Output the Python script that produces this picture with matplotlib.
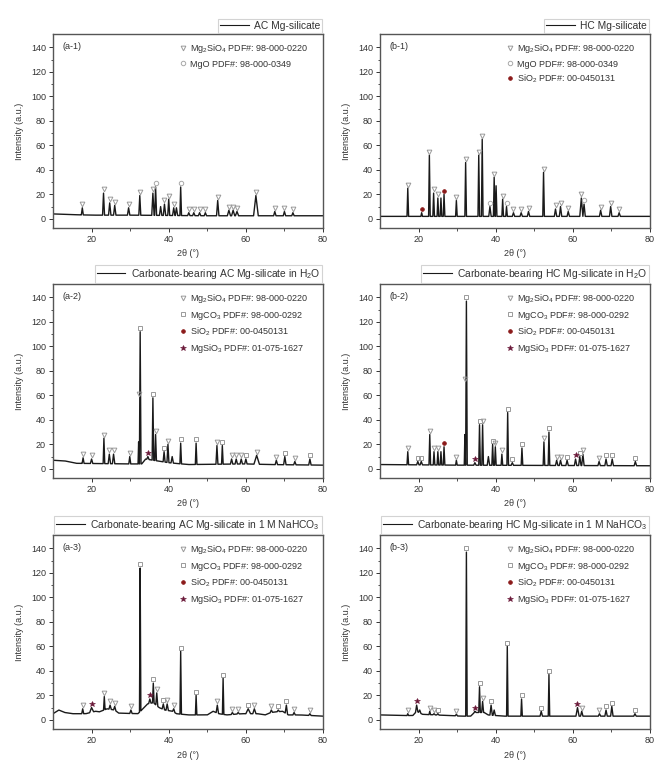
import numpy as np
import matplotlib
matplotlib.use('Agg')
import matplotlib.pyplot as plt
from matplotlib.lines import Line2D

plt.rcParams['font.family'] = ['Liberation Sans', 'DejaVu Sans']
plt.rcParams['mathtext.fontset'] = 'custom'
plt.rcParams['mathtext.rm'] = 'Liberation Sans'
plt.rcParams['mathtext.it'] = 'Liberation Sans:italic'

FS = 6.5

# ---- diffraction data: baseline anchors (2theta, I), peaks (2theta, top I, half width) ----
a1_base = [(10, 4), (14, 3.5), (20, 3), (30, 3), (50, 2.5), (80, 2.5)]
a1_peaks = [(17.6, 9, 0.25), (23.1, 21, 0.25), (24.7, 13, 0.3), (26.0, 11, 0.3),
            (29.6, 9, 0.3), (32.5, 19, 0.25), (35.9, 21, 0.3), (36.6, 26, 0.25),
            (37.9, 10, 0.3), (38.9, 12, 0.3), (40.0, 16, 0.25), (41.3, 9, 0.3),
            (42.0, 9, 0.3), (43.1, 26, 0.2), (45.2, 5, 0.3), (46.5, 5, 0.3),
            (48.0, 5, 0.3), (49.5, 5, 0.3), (52.7, 15, 0.3), (55.6, 7, 0.4),
            (56.7, 7, 0.4), (57.7, 6, 0.4), (62.6, 19, 0.6), (67.5, 6, 0.3),
            (70.0, 6, 0.3), (72.2, 5, 0.3)]
a1_fo = [17.6, 23.1, 24.7, 26.0, 29.6, 32.5, 35.9, 38.9, 40.0, 41.3, 45.2, 46.5,
         48.0, 49.5, 52.7, 55.6, 56.7, 57.7, 62.6, 67.5, 70.0, 72.2]
a1_mgo = [36.6, 43.1]

b1_base = [(10, 2), (80, 2)]
b1_peaks = [(17.2, 25, 0.2), (20.8, 5, 0.2), (22.8, 52, 0.2), (23.9, 21, 0.2),
            (25.0, 17, 0.2), (25.8, 17, 0.2), (26.6, 20, 0.2), (29.8, 15, 0.2),
            (32.2, 46, 0.2), (35.6, 52, 0.2), (36.5, 65, 0.2), (38.5, 10, 0.3),
            (39.6, 34, 0.2), (40.1, 27, 0.2), (41.8, 16, 0.2), (42.8, 10, 0.2),
            (44.6, 5, 0.3), (46.6, 5, 0.3), (48.5, 6, 0.3), (52.4, 38, 0.2),
            (55.5, 8, 0.3), (56.8, 10, 0.3), (58.8, 6, 0.3), (62.2, 17, 0.4),
            (62.9, 12, 0.3), (67.2, 7, 0.3), (69.8, 10, 0.3), (72.0, 5, 0.3)]
b1_fo = [17.2, 22.8, 23.9, 25.0, 29.8, 32.2, 35.6, 36.5, 39.6, 41.8, 44.6, 46.6,
         48.5, 52.4, 55.5, 56.8, 58.8, 62.2, 67.2, 69.8, 72.0]
b1_mgo = [38.5, 42.8, 62.9]
b1_sio2 = [20.8, 26.6]

a2_base = [(10, 7), (13, 6.5), (16, 4.5), (30, 4), (33, 4), (34, 8), (38, 6),
           (40, 5), (45, 3.5), (60, 4), (66, 3.5), (80, 3)]
a2_peaks = [(17.8, 9, 0.25), (20.0, 8, 0.3), (23.2, 25, 0.2), (24.6, 12, 0.3),
            (25.7, 12, 0.3), (29.9, 10, 0.25), (32.2, 22, 0.15), (32.6, 112, 0.2),
            (34.6, 10, 0.3), (35.9, 58, 0.2), (36.6, 28, 0.2), (38.8, 14, 0.25),
            (39.8, 20, 0.25), (40.9, 10, 0.3), (43.1, 21, 0.2), (47.1, 21, 0.2),
            (52.5, 19, 0.25), (53.9, 19, 0.2), (56.3, 8, 0.3), (57.5, 8, 0.3),
            (58.8, 8, 0.3), (60.0, 8, 0.3), (62.8, 11, 0.7), (67.9, 7, 0.3),
            (70.1, 10, 0.3), (72.7, 6, 0.3), (76.6, 8, 0.3)]
a2_fo = [17.8, 20.0, 23.2, 24.6, 25.7, 29.9, 32.2, 36.6, 39.8, 52.5, 56.3, 57.5,
         58.8, 62.8, 67.9, 72.7]
a2_mgco3 = [32.6, 35.9, 38.8, 43.1, 47.1, 53.9, 60.0, 70.1, 76.6]
a2_sio2 = []
a2_mgsio3 = [34.6]

b2_base = [(10, 3.5), (30, 3), (80, 2.5)]
b2_peaks = [(17.2, 14, 0.2), (19.8, 6, 0.3), (20.7, 6, 0.3), (22.9, 28, 0.2),
            (24.0, 14, 0.2), (25.0, 14, 0.2), (25.8, 14, 0.2), (26.6, 18, 0.2),
            (29.8, 7, 0.2), (32.0, 28, 0.15), (32.4, 137, 0.2), (34.6, 5, 0.3),
            (35.8, 36, 0.2), (36.6, 36, 0.2), (38.1, 10, 0.3), (39.2, 20, 0.2),
            (39.9, 18, 0.2), (41.6, 12, 0.2), (43.1, 46, 0.2), (44.3, 5, 0.3),
            (46.8, 17, 0.2), (52.5, 22, 0.2), (53.8, 30, 0.2), (55.8, 7, 0.3),
            (56.8, 7, 0.3), (58.5, 7, 0.3), (60.7, 8, 0.3), (61.8, 10, 0.3),
            (62.6, 12, 0.3), (66.8, 6, 0.3), (68.6, 8, 0.3), (70.2, 8, 0.3),
            (76.2, 6, 0.3)]
b2_fo = [17.2, 22.9, 24.0, 25.0, 29.8, 32.0, 36.6, 39.9, 41.6, 52.5, 55.8, 56.8,
         62.6, 66.8]
b2_mgco3 = [19.8, 20.7, 32.4, 35.8, 39.2, 43.1, 44.3, 46.8, 53.8, 58.5, 61.8,
            68.6, 70.2, 76.2]
b2_sio2 = [26.6]
b2_mgsio3 = [34.6, 60.7]

a3_base = [(10, 5), (11.5, 8), (13, 6), (15, 5), (18.5, 5), (21, 7), (22, 6.5),
           (24, 9), (26, 8), (27, 5.5), (32, 5), (33, 8), (34.5, 13), (36, 14),
           (37.5, 10), (39, 8), (41, 7), (42, 5), (45, 4), (50, 4), (51.5, 7),
           (53, 5), (55, 4), (59, 5), (63, 5), (65, 4), (66.5, 6), (69.5, 7),
           (71, 4), (74, 4), (80, 3)]
a3_peaks = [(17.7, 9, 0.25), (20.0, 10, 0.5), (23.3, 19, 0.2), (24.8, 12, 0.3),
            (26.0, 11, 0.3), (30.2, 8, 0.3), (32.6, 124, 0.18), (35.1, 17, 0.3),
            (36.0, 30, 0.2), (36.9, 22, 0.25), (38.6, 13, 0.3), (39.6, 13, 0.3),
            (41.3, 9, 0.3), (43.1, 56, 0.18), (47.1, 20, 0.18), (52.6, 12, 0.3),
            (54.1, 34, 0.18), (56.5, 6, 0.3), (58.0, 6, 0.3), (60.6, 9, 0.6),
            (62.2, 9, 0.4), (66.6, 8, 0.3), (68.4, 8, 0.3), (70.5, 12, 0.3),
            (72.5, 6, 0.3), (76.6, 5, 0.3)]
a3_fo = [17.7, 23.3, 24.8, 26.0, 30.2, 36.9, 39.6, 41.3, 52.6, 56.5, 58.0, 62.2,
         66.6, 72.5, 76.6]
a3_mgco3 = [32.6, 36.0, 38.6, 43.1, 47.1, 54.1, 60.6, 68.4, 70.5]
a3_sio2 = []
a3_mgsio3 = [20.0, 35.1]

b3_base = [(10, 4), (16, 3.5), (18.5, 3.5), (19.5, 7), (21, 4.5), (31, 3),
           (33.5, 3), (34.5, 6), (37, 6), (38, 4), (42, 3), (80, 3)]
b3_peaks = [(17.2, 5, 0.2), (19.5, 12, 0.3), (20.3, 8, 0.3), (22.9, 7, 0.2),
            (24.0, 5, 0.3), (25.0, 5, 0.3), (29.8, 4.5, 0.3), (32.4, 137, 0.18),
            (34.6, 7, 0.3), (35.8, 27, 0.2), (36.6, 15, 0.25), (38.8, 12, 0.3),
            (39.6, 8, 0.3), (43.0, 60, 0.18), (46.7, 17, 0.18), (51.8, 7, 0.3),
            (53.8, 37, 0.18), (61.2, 10, 0.4), (62.3, 7, 0.3), (66.9, 5, 0.3),
            (68.6, 8, 0.3), (70.1, 11, 0.3), (76.1, 5, 0.3)]
b3_fo = [17.2, 22.9, 24.0, 29.8, 36.6, 62.3, 66.9]
b3_mgco3 = [25.0, 32.4, 35.8, 38.8, 43.0, 46.7, 51.8, 53.8, 68.6, 70.1, 76.1]
b3_sio2 = []
b3_mgsio3 = [19.5, 34.6, 61.2]

# ---- phase marker styles ----
PHASES = {
    'fo': dict(marker='v', mfc='none', mec='#9a9a9a', ms=3.4, mew=0.7,
               label='Mg$_2$SiO$_4$ PDF#: 98-000-0220'),
    'mgo': dict(marker='o', mfc='none', mec='#a8a8a8', ms=3.2, mew=0.7,
                label='MgO PDF#: 98-000-0349'),
    'mgco3': dict(marker='s', mfc='none', mec='#9a9a9a', ms=3.0, mew=0.7,
                  label='MgCO$_3$ PDF#: 98-000-0292'),
    'sio2': dict(marker='o', mfc='#8b1a1a', mec='#8b1a1a', ms=2.7, mew=0.5,
                 label='SiO$_2$ PDF#: 00-0450131'),
    'mgsio3': dict(marker='*', mfc='#6a1838', mec='#6a1838', ms=3.8, mew=0.4,
                   label='MgSiO$_3$ PDF#: 01-075-1627'),
}

panels = [
    dict(tag='(a-1)', name='AC Mg-silicate', base=a1_base, peaks=a1_peaks,
         marks={'fo': a1_fo, 'mgo': a1_mgo}, legend=['fo', 'mgo']),
    dict(tag='(b-1)', name='HC Mg-silicate', base=b1_base, peaks=b1_peaks,
         marks={'fo': b1_fo, 'mgo': b1_mgo, 'sio2': b1_sio2}, legend=['fo', 'mgo', 'sio2']),
    dict(tag='(a-2)', name='Carbonate-bearing AC Mg-silicate in H$_2$O', base=a2_base, peaks=a2_peaks,
         marks={'fo': a2_fo, 'mgco3': a2_mgco3, 'sio2': a2_sio2, 'mgsio3': a2_mgsio3},
         legend=['fo', 'mgco3', 'sio2', 'mgsio3']),
    dict(tag='(b-2)', name='Carbonate-bearing HC Mg-silicate in H$_2$O', base=b2_base, peaks=b2_peaks,
         marks={'fo': b2_fo, 'mgco3': b2_mgco3, 'sio2': b2_sio2, 'mgsio3': b2_mgsio3},
         legend=['fo', 'mgco3', 'sio2', 'mgsio3']),
    dict(tag='(a-3)', name='Carbonate-bearing AC Mg-silicate in 1 M NaHCO$_3$', base=a3_base, peaks=a3_peaks,
         marks={'fo': a3_fo, 'mgco3': a3_mgco3, 'sio2': a3_sio2, 'mgsio3': a3_mgsio3},
         legend=['fo', 'mgco3', 'sio2', 'mgsio3']),
    dict(tag='(b-3)', name='Carbonate-bearing HC Mg-silicate in 1 M NaHCO$_3$', base=b3_base, peaks=b3_peaks,
         marks={'fo': b3_fo, 'mgco3': b3_mgco3, 'sio2': b3_sio2, 'mgsio3': b3_mgsio3},
         legend=['fo', 'mgco3', 'sio2', 'mgsio3']),
]


def build_pattern(base, peaks):
    """Baseline polyline plus a narrow spike for every listed reflection."""
    x = np.arange(10, 80.001, 0.02)
    bx, by = zip(*base)
    b = np.interp(x, bx, by)
    y = b.copy()
    for pos, top, hw in peaks:
        shape = np.clip(1 - np.abs(x - pos) / hw, 0, None)
        y += shape * (top - np.interp(pos, bx, by))
    return x, y


W, H = 654, 762
fig = plt.figure(figsize=(W / 100, H / 100), dpi=100)

col_left = [53, 380]
row_top = [34, 284, 535]
ax_w, ax_h = 270, 194

for i, p in enumerate(panels):
    r, c = divmod(i, 2)
    ax = fig.add_axes([col_left[c] / W, 1 - (row_top[r] + ax_h) / H, ax_w / W, ax_h / H])

    x, y = build_pattern(p['base'], p['peaks'])
    ax.plot(x, y, color='#1a1a1a', lw=1.0, label=p['name'])

    # phase markers sit just above each reflection
    for key, xs in p['marks'].items():
        st = dict(PHASES[key])
        st.pop('label')
        for xm in xs:
            near = np.abs(x - xm) <= 0.3
            ax.plot(xm, y[near].max() + 3.0, ls='none', **st)

    ax.set_xlim(10, 80)
    ax.set_ylim(-7.5, 151)
    ax.set_xticks([20, 40, 60, 80])
    ax.set_xticks([30, 50, 70], minor=True)
    ax.set_yticks(range(0, 141, 20))
    ax.set_yticks(range(10, 141, 20), minor=True)
    ax.tick_params(labelsize=FS, length=3, width=0.7, pad=2, colors='#333333')
    ax.tick_params(which='minor', length=1.8, width=0.6, colors='#333333')
    for s in ax.spines.values():
        s.set_color('#555555')
        s.set_linewidth(1.0)
    ax.set_xlabel('2θ (°)', fontsize=FS, labelpad=4, color='#333333')
    ax.set_ylabel('Intensity (a.u.)', fontsize=FS, labelpad=5, color='#333333')
    ax.text(0.035, 0.935, p['tag'], transform=ax.transAxes, fontsize=FS,
            va='center', ha='left', color='#333333')

    # phase key inside the frame
    handles = [Line2D([], [], ls='none', **PHASES[k]) for k in p['legend']]
    inner = ax.legend(handles=handles, loc='upper left', bbox_to_anchor=(0.455, 0.975),
                      frameon=False, fontsize=FS, handlelength=0.8, handletextpad=0.35,
                      labelspacing=0.45, borderaxespad=0, labelcolor='#333333')
    ax.add_artist(inner)

    # sample name box above the frame
    leg = ax.legend(handles=[Line2D([], [], color='#1a1a1a', lw=0.8)], labels=[p['name']],
                    loc='lower right', bbox_to_anchor=(1.0, 1.0), fontsize=7.4,
                    handlelength=2.8, handletextpad=0.5, borderpad=0.2,
                    borderaxespad=0.1, fancybox=False, labelcolor='#333333')
    leg.get_frame().set_edgecolor('#c8c8c8')
    leg.get_frame().set_linewidth(0.8)

fig.savefig('out.png', dpi=100)
